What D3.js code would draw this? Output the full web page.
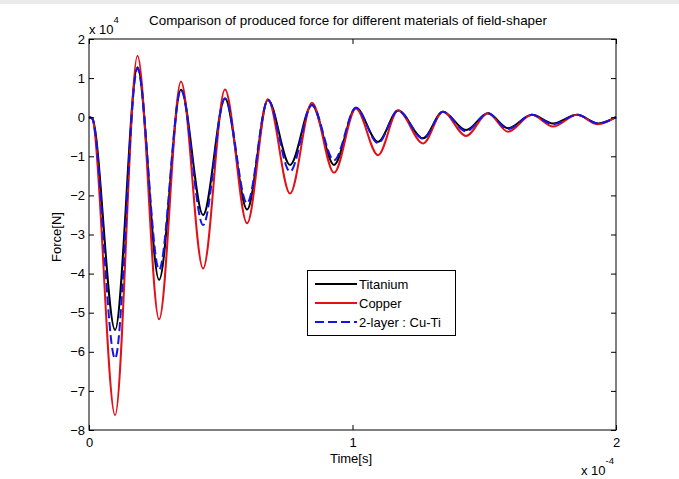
<!DOCTYPE html>
<html>
<head>
<meta charset="utf-8">
<script src="https://cdn.jsdelivr.net/npm/d3@7/dist/d3.min.js"></script>
<style>
  body { margin: 0; background: #fff; }
  text { font-family: "Liberation Sans", Arial, Helvetica, sans-serif; fill: #000; }
</style>
</head>
<body>
<svg id="chart" width="679" height="479"></svg>
<script>
// Time samples (x 10^-4 s): start, then alternating troughs and peaks
const time = [0, 0.012, 0.099, 0.184, 0.266, 0.349, 0.433, 0.516, 0.600, 0.679,
              0.763, 0.846, 0.930, 1.013, 1.097, 1.173, 1.268, 1.343, 1.431, 1.514,
              1.590, 1.681, 1.761, 1.852, 1.932, 2.0];

// Force (x 10^4 N) for each field-shaper material
const titanium = [0, -0.03, -5.44, 1.28, -4.16, 0.70, -2.50, 0.48, -2.36, 0.44,
                  -1.22, 0.31, -1.22, 0.24, -0.63, 0.17, -0.54, 0.14, -0.33, 0.10,
                  -0.28, 0.06, -0.16, 0.06, -0.16, 0];
const copper   = [0, -0.03, -7.62, 1.57, -5.17, 0.91, -3.87, 0.71, -2.71, 0.46,
                  -1.95, 0.37, -1.42, 0.22, -0.97, 0.17, -0.67, 0.14, -0.48, 0.10,
                  -0.37, 0.06, -0.24, 0.06, -0.18, 0];
const twoLayer = [0, -0.03, -6.17, 1.25, -3.90, 0.70, -2.76, 0.48, -2.20, 0.44,
                  -1.39, 0.31, -1.10, 0.24, -0.66, 0.17, -0.55, 0.14, -0.36, 0.10,
                  -0.30, 0.06, -0.18, 0.06, -0.16, 0];

const seriesNames = ["Titanium", "Copper", "2-layer : Cu-Ti"];
const xTickValues = [0, 1, 2];
const yTickValues = [2, 1, 0, -1, -2, -3, -4, -5, -6, -7, -8];

const svg = d3.select("#chart");
const W = 679, H = 479;
const plotL = 89, plotR = 616, plotT = 39, plotB = 430;
const FONT = "13px";

// faint strip along the top edge of the figure window
svg.append("rect").attr("x", 0).attr("y", 0).attr("width", W).attr("height", 4)
   .attr("fill", "#ebebeb");

const x = d3.scaleLinear().domain([0, 2]).range([plotL, plotR]);
const y = d3.scaleLinear().domain([-8, 2]).range([plotB, plotT]);

const styles = [
  { data: titanium, color: "#000000", dash: null },
  { data: copper,   color: "#e01218", dash: null },
  { data: twoLayer, color: "#1414e6", dash: "9,4" }
];

const plot = svg.append("g");
plot.append("rect").attr("x", plotL).attr("y", plotT)
    .attr("width", plotR - plotL).attr("height", plotB - plotT).attr("fill", "#fff");

const line = d3.line()
  .x(d => x(d[0]))
  .y(d => y(d[1]))
  .curve(d3.curveMonotoneX);

styles.forEach(s => {
  plot.append("path")
    .datum(time.map((t, i) => [t, s.data[i]]))
    .attr("d", line)
    .attr("fill", "none")
    .attr("stroke", s.color)
    .attr("stroke-width", 2)
    .attr("stroke-linejoin", "round")
    .attr("stroke-dasharray", s.dash);
});

// axes with inward ticks on all four sides
function styleAxis(g) {
  g.select(".domain").remove();
  g.selectAll(".tick line").attr("stroke", "#000");
  g.selectAll("text").style("font-size", FONT)
   .style("font-family", '"Liberation Sans", Arial, sans-serif');
}

svg.append("g").attr("transform", `translate(0,${plotB})`)
  .call(d3.axisBottom(x).tickValues(xTickValues).tickSize(-5).tickPadding(8)
        .tickFormat(d3.format("d")))
  .call(styleAxis);
svg.append("g").attr("transform", `translate(0,${plotT})`)
  .call(d3.axisTop(x).tickValues(xTickValues).tickSize(-5).tickFormat(""))
  .call(styleAxis);
svg.append("g").attr("transform", `translate(${plotL},0)`)
  .call(d3.axisLeft(y).tickValues(yTickValues).tickSize(-5).tickPadding(4)
        .tickFormat(d3.format("d")))
  .call(styleAxis);
svg.append("g").attr("transform", `translate(${plotR},0)`)
  .call(d3.axisRight(y).tickValues(yTickValues).tickSize(-5).tickFormat(""))
  .call(styleAxis);

svg.append("rect").attr("x", plotL).attr("y", plotT)
   .attr("width", plotR - plotL).attr("height", plotB - plotT)
   .attr("fill", "none").attr("stroke", "#000").attr("stroke-width", 1);

// title and axis labels
svg.append("text").attr("x", 348).attr("y", 25).attr("text-anchor", "middle")
   .style("font-size", "13.4px")
   .text("Comparison of produced force for different materials of field-shaper");

svg.append("text").attr("x", 351).attr("y", 463).attr("text-anchor", "middle")
   .style("font-size", FONT).text("Time[s]");

svg.append("text").attr("transform", "translate(61,237) rotate(-90)")
   .attr("text-anchor", "middle").style("font-size", FONT).text("Force[N]");

// exponent markers
const ey = svg.append("text").attr("x", 89).attr("y", 34).style("font-size", FONT);
ey.append("tspan").text("x 10");
ey.append("tspan").attr("dy", -11).style("font-size", "9.5px").text("4");

const ex = svg.append("text").attr("x", 581).attr("y", 475).style("font-size", FONT);
ex.append("tspan").text("x 10");
ex.append("tspan").attr("dy", -11).style("font-size", "9.5px").text("-4");

// legend
const lg = svg.append("g");
lg.append("rect").attr("x", 307.5).attr("y", 270.5).attr("width", 148).attr("height", 65)
  .attr("fill", "#fff").attr("stroke", "#000").attr("stroke-width", 1);
const rowY = [284, 303, 322];
styles.forEach((s, i) => {
  lg.append("line").attr("x1", 315).attr("x2", 357)
    .attr("y1", rowY[i]).attr("y2", rowY[i])
    .attr("stroke", s.color).attr("stroke-width", 2)
    .attr("stroke-dasharray", s.dash);
  lg.append("text").attr("x", 359).attr("y", rowY[i] + 4.7)
    .style("font-size", FONT).text(seriesNames[i]);
});
</script>
</body>
</html>
